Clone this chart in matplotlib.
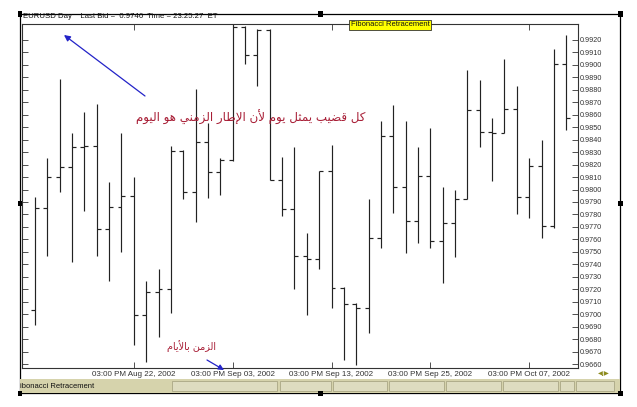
import matplotlib
matplotlib.use("Agg")
import matplotlib.pyplot as plt
from matplotlib.patches import Rectangle
import numpy as np
import pandas as pd

# EURUSD daily bars, 12 Aug - 10 Oct 2002
dates = pd.bdate_range("2002-08-12", "2002-10-10")
opens = [0.9703, 0.9785, 0.9810, 0.9818, 0.9834, 0.9835, 0.9768, 0.9786, 0.9795, 0.9699,
         0.9718, 0.9720, 0.9831, 0.9798, 0.9838, 0.9814, 0.9824, 0.9930, 0.9908, 0.9928,
         0.9808, 0.9784, 0.9747, 0.9744, 0.9815, 0.9721, 0.9708, 0.9705, 0.9761, 0.9843,
         0.9802, 0.9775, 0.9811, 0.9759, 0.9773, 0.9792, 0.9864, 0.9846, 0.9845, 0.9865,
         0.9794, 0.9819, 0.9771, 0.9901]
highs = [0.9794, 0.9825, 0.9889, 0.9845, 0.9862, 0.9869, 0.9806, 0.9845, 0.9810, 0.9727,
         0.9736, 0.9835, 0.9832, 0.9881, 0.9853, 0.9825, 0.9934, 0.9931, 0.9929, 0.9929,
         0.9826, 0.9834, 0.9765, 0.9815, 0.9836, 0.9722, 0.9709, 0.9792, 0.9855, 0.9868,
         0.9855, 0.9834, 0.9849, 0.9802, 0.9800, 0.9896, 0.9888, 0.9857, 0.9905, 0.9883,
         0.9825, 0.9840, 0.9913, 0.9924]
lows = [0.9691, 0.9747, 0.9798, 0.9742, 0.9783, 0.9747, 0.9727, 0.9750, 0.9675, 0.9662,
        0.9682, 0.9701, 0.9792, 0.9774, 0.9793, 0.9796, 0.9823, 0.9901, 0.9883, 0.9808,
        0.9779, 0.9720, 0.9699, 0.9736, 0.9705, 0.9663, 0.9659, 0.9685, 0.9753, 0.9781,
        0.9749, 0.9757, 0.9753, 0.9725, 0.9746, 0.9792, 0.9834, 0.9807, 0.9845, 0.9780,
        0.9777, 0.9761, 0.9769, 0.9848]
closes = [0.9785, 0.9810, 0.9818, 0.9834, 0.9835, 0.9768, 0.9786, 0.9795, 0.9699, 0.9718,
          0.9720, 0.9831, 0.9798, 0.9838, 0.9814, 0.9824, 0.9930, 0.9908, 0.9928, 0.9808,
          0.9784, 0.9747, 0.9744, 0.9815, 0.9721, 0.9708, 0.9705, 0.9761, 0.9843, 0.9802,
          0.9775, 0.9811, 0.9759, 0.9773, 0.9792, 0.9864, 0.9846, 0.9845, 0.9865, 0.9794,
          0.9819, 0.9771, 0.9901, 0.9857]

tick_dates = ["2002-08-22", "2002-09-03", "2002-09-13", "2002-09-25", "2002-10-07"]
tick_labels = ["03:00 PM Aug 22, 2002", "03:00 PM Sep 03, 2002", "03:00 PM Sep 13, 2002",
               "03:00 PM Sep 25, 2002", "03:00 PM Oct 07, 2002"]
price_ticks = np.round(np.arange(0.9660, 0.99201, 0.001), 4)

note_main = "كل قضيب يمثل يوم لأن الإطار الزمني هو اليوم"
note_time = "الزمن بالأيام"
header = "EURUSD Day    Last Bid =  0.9746  Time = 23:25:27  ET"

# --- minimal Arabic shaping (matplotlib has no complex text layout) ---
DUAL = {
    'ب': (0xFE8F, 0xFE90, 0xFE91, 0xFE92), 'ث': (0xFE99, 0xFE9A, 0xFE9B, 0xFE9C),
    'ض': (0xFEBD, 0xFEBE, 0xFEBF, 0xFEC0), 'ط': (0xFEC1, 0xFEC2, 0xFEC3, 0xFEC4),
    'ق': (0xFED5, 0xFED6, 0xFED7, 0xFED8), 'ك': (0xFED9, 0xFEDA, 0xFEDB, 0xFEDC),
    'ل': (0xFEDD, 0xFEDE, 0xFEDF, 0xFEE0), 'م': (0xFEE1, 0xFEE2, 0xFEE3, 0xFEE4),
    'ن': (0xFEE5, 0xFEE6, 0xFEE7, 0xFEE8), 'ه': (0xFEE9, 0xFEEA, 0xFEEB, 0xFEEC),
    'ي': (0xFEF1, 0xFEF2, 0xFEF3, 0xFEF4),
}
RIGHT = {
    'ا': (0xFE8D, 0xFE8E), 'أ': (0xFE83, 0xFE84), 'إ': (0xFE87, 0xFE88),
    'ر': (0xFEAD, 0xFEAE), 'ز': (0xFEAF, 0xFEB0), 'و': (0xFEED, 0xFEEE),
}
LAM_ALEF = {'ا': (0xFEFB, 0xFEFC), 'أ': (0xFEF7, 0xFEF8), 'إ': (0xFEF9, 0xFEFA)}


def shape_arabic(text):
    toks = []
    i = 0
    while i < len(text):
        if text[i] == 'ل' and i + 1 < len(text) and text[i + 1] in LAM_ALEF:
            toks.append('ل' + text[i + 1])
            i += 2
        else:
            toks.append(text[i])
            i += 1

    def to_next(t):
        return t in DUAL

    def to_prev(t):
        return t in DUAL or t in RIGHT or len(t) == 2

    out = []
    for k, t in enumerate(toks):
        prev = toks[k - 1] if k > 0 else ' '
        nxt = toks[k + 1] if k + 1 < len(toks) else ' '
        cp = to_next(prev) and to_prev(t)
        cn = to_next(t) and to_prev(nxt)
        if len(t) == 2:
            f = LAM_ALEF[t[1]]
            out.append(chr(f[1] if cp else f[0]))
        elif t in DUAL:
            f = DUAL[t]
            idx = 3 if (cp and cn) else 1 if cp else 2 if cn else 0
            out.append(chr(f[idx]))
        elif t in RIGHT:
            f = RIGHT[t]
            out.append(chr(f[1] if cp else f[0]))
        else:
            out.append(t)
    return ''.join(reversed(out))


W, H = 637, 407
fig = plt.figure(figsize=(W / 100, H / 100), dpi=100, facecolor='white')


def fx(x):
    return x / W


def fy(y):
    return 1 - y / H


ax = fig.add_axes([fx(22), fy(368), fx(578) - fx(22), fy(24) - fy(368)])

x = np.arange(len(dates))
tw = 0.32
ax.vlines(x, lows, highs, color='#222222', lw=0.85)
ax.hlines(opens, x - tw, x, color='#222222', lw=0.85)
ax.hlines(closes, x, x + tw, color='#222222', lw=0.85)

ax.set_xlim(-1.05, 43.95)
ax.set_ylim(0.96568, 0.99328)

date_str = [d.strftime("%Y-%m-%d") for d in dates]
ax.set_xticks([date_str.index(d) for d in tick_dates])
ax.set_xticklabels(tick_labels, fontsize=5.8)
ax.set_yticks(price_ticks)
ax.set_yticklabels([f"{v:.4f}" for v in price_ticks], fontsize=5.2)
ax.tick_params(axis='both', direction='in', length=4, width=0.6, color='#333333',
               labelcolor='#333333')
ax.tick_params(axis='x', top=True, pad=1.8)
ax.tick_params(axis='y', left=True, right=True, labelleft=False, labelright=True, pad=1.2)
for lab in ax.get_xticklabels() + ax.get_yticklabels():
    lab.set_fontfamily('Liberation Sans')
for s in ax.spines.values():
    s.set_color('#333333')
    s.set_linewidth(0.8)

# outer frame of the pasted screenshot
fig.add_artist(Rectangle((fx(20), fy(393)), fx(620) - fx(20), fy(14) - fy(393),
                         transform=fig.transFigure, fill=False, ec='black', lw=0.9))

# bottom status strip
fig.add_artist(Rectangle((fx(20), fy(393)), fx(620) - fx(20), fy(379) - fy(393),
                         transform=fig.transFigure, fc='#d6d3ac', ec='none'))
for a, b in [(172, 277), (280, 331), (333, 387), (389, 444), (446, 501), (503, 558),
             (560, 574), (576, 614)]:
    fig.add_artist(Rectangle((fx(a), fy(391)), fx(b) - fx(a), fy(381) - fy(391),
                             transform=fig.transFigure, fc='#dedcc0', ec='#a9a684', lw=0.6))
fig.text(fx(20), fy(386), "ibonacci Retracement", fontsize=5.5, family='Liberation Sans',
         color='#111111', ha='left', va='center')
fig.text(fx(604), fy(373), "◀|▶", fontsize=4.5, color='#8c8a1c', ha='center', va='center',
         family='DejaVu Sans', weight='bold')

# selection handles
for hx, hy in [(20, 14), (320, 14), (620, 14), (620, 203), (620, 393), (320, 393),
               (20, 393), (20, 203)]:
    fig.add_artist(Rectangle((fx(hx - 2.5), fy(hy + 2.5)), fx(5), 5 / H,
                             transform=fig.transFigure, fc='black', ec='none'))

# header
fig.text(fx(23), fy(16.5), header, fontsize=5.6, family='Liberation Sans', color='#111111',
         ha='left', va='center')
fig.text(fx(390), fy(25), "Fibonacci Retracement", fontsize=5.5, family='Liberation Sans',
         color='#111111', ha='center', va='center',
         bbox=dict(boxstyle='square,pad=0.25', fc='#ffff00', ec='#333333', lw=0.6))

# Arabic notes and blue arrows
fig.text(fx(251), fy(117), shape_arabic(note_main), fontsize=8.6, family='DejaVu Sans',
         color='#a81e36', ha='center', va='center')
fig.text(fx(192), fy(346), shape_arabic(note_time), fontsize=6.9, family='DejaVu Sans',
         color='#a81e36', ha='center', va='center')
ax.annotate('', xy=(64, H - 35), xytext=(145, H - 96), xycoords='figure pixels',
            textcoords='figure pixels', annotation_clip=False,
            arrowprops=dict(arrowstyle='-|>', color='#2323c8', lw=0.9, mutation_scale=9,
                            shrinkA=0, shrinkB=0))
ax.annotate('', xy=(224, H - 370), xytext=(207, H - 360), xycoords='figure pixels',
            textcoords='figure pixels', annotation_clip=False,
            arrowprops=dict(arrowstyle='-|>', color='#2323c8', lw=0.9, mutation_scale=8,
                            shrinkA=0, shrinkB=0))

fig.savefig("out.png", dpi=100, facecolor='white')
